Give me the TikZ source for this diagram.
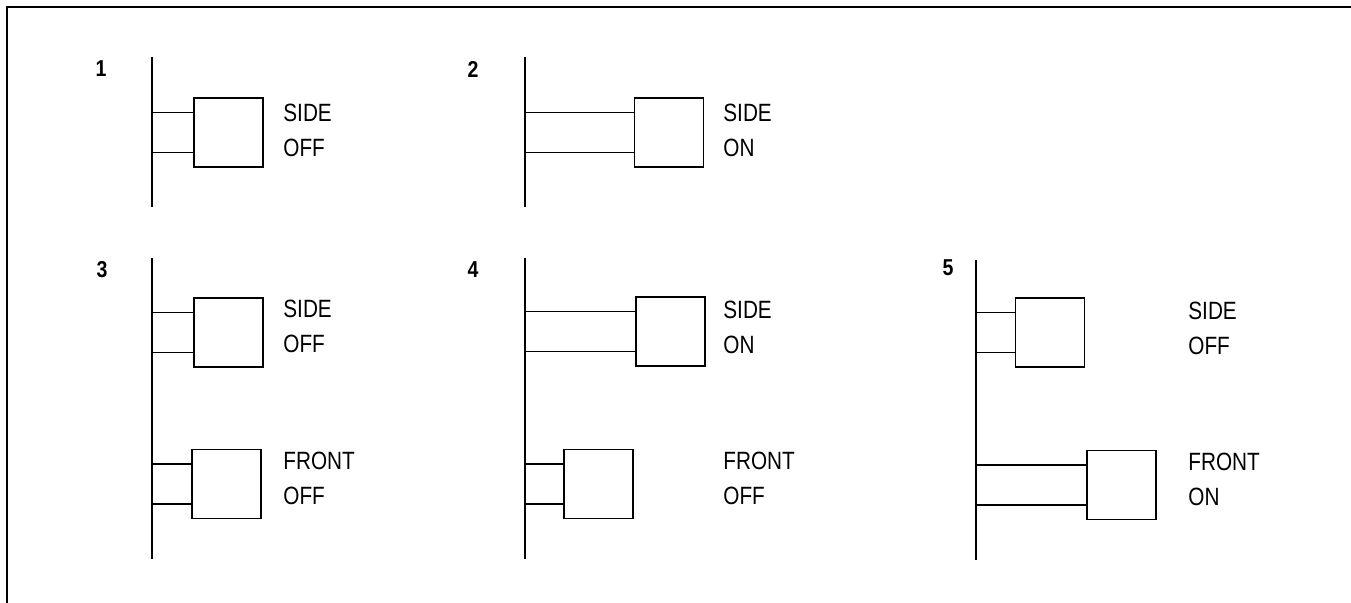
\documentclass[tikz,border=0pt]{standalone}
\usepackage{fontspec}
\setmainfont{Liberation Sans}[FakeStretch=0.83, BoldFont={Liberation Sans Bold},
  BoldFeatures={FakeStretch=0.85}]
\usetikzlibrary{positioning}

\begin{document}
\begin{tikzpicture}[
  x=0.5pt, y=-0.5pt,
  frame/.style={line width=1.2pt},
  bus/.style={line width=1pt},
  stub/.style={line width=0.7pt},
  unit/.style={draw, line width=0.9pt, minimum width=34.5pt,
               minimum height=34.5pt, inner sep=0pt},
  state/.style={anchor=west, align=left, inner sep=0pt,
                font=\fontsize{12.5}{17.5}\selectfont},
  num/.style={inner sep=0pt, font=\bfseries\fontsize{11.5}{13}\selectfont},
]
\useasboundingbox (0,0) rectangle (1351,603);
\draw[frame] (7,603) -- (7,7) -- (1351,7);

% 1
\node[num] (n1) at (101,69) {1};
\coordinate (t1) at (152,57);
\coordinate (e1) at (152,207);
\draw[bus] (t1) -- (e1);
\node[unit] (s1) at (228.5,132.5) {};
\node[state] (l1) at (283,130.5) {SIDE\\OFF};
\foreach \d in {10pt,-10pt}
  \draw[stub] ([yshift=\d]s1.west) -- ([yshift=\d]s1.west -| t1);

% 2
\node[num] (n2) at (473,69) {2};
\coordinate (t2) at (525,57);
\coordinate (e2) at (525,207);
\draw[bus] (t2) -- (e2);
\node[unit] (s2) at (669,132.5) {};
\node[state] (l2) at (723,130) {SIDE\\ON};
\foreach \d in {10pt,-10pt}
  \draw[stub] ([yshift=\d]s2.west) -- ([yshift=\d]s2.west -| t2);

% 3
\node[num] (n3) at (102,270) {3};
\coordinate (t3) at (152,258);
\coordinate (e3) at (152,559);
\draw[bus] (t3) -- (e3);
\node[unit] (s3) at (228.5,332.5) {};
\node[unit] (f3) at (226.5,484) {};
\node[state] (l3) at (283,326) {SIDE\\OFF};
\node[state] (m3) at (283,478) {FRONT\\OFF};
\foreach \d in {10pt,-10pt} {
  \draw[stub] ([yshift=\d]s3.west) -- ([yshift=\d]s3.west -| t3);
  \draw[stub] ([yshift=\d]f3.west) -- ([yshift=\d]f3.west -| t3);
}

% 4
\node[num] (n4) at (473,270) {4};
\coordinate (t4) at (525,258);
\coordinate (e4) at (525,559);
\draw[bus] (t4) -- (e4);
\node[unit] (s4) at (670.5,331.5) {};
\node[unit] (f4) at (598.5,484) {};
\node[state] (l4) at (723,327) {SIDE\\ON};
\node[state] (m4) at (723,478) {FRONT\\OFF};
\foreach \d in {10pt,-10pt} {
  \draw[stub] ([yshift=\d]s4.west) -- ([yshift=\d]s4.west -| t4);
  \draw[stub] ([yshift=\d]f4.west) -- ([yshift=\d]f4.west -| t4);
}

% 5
\node[num] (n5) at (948,268) {5};
\coordinate (t5) at (976,260);
\coordinate (e5) at (976,560);
\draw[bus] (t5) -- (e5);
\node[unit] (s5) at (1050,332.5) {};
\node[unit] (f5) at (1121.5,485) {};
\node[state] (l5) at (1188,328) {SIDE\\OFF};
\node[state] (m5) at (1188,479) {FRONT\\ON};
\foreach \d in {10pt,-10pt} {
  \draw[stub] ([yshift=\d]s5.west) -- ([yshift=\d]s5.west -| t5);
  \draw[stub] ([yshift=\d]f5.west) -- ([yshift=\d]f5.west -| t5);
}
\end{tikzpicture}
\end{document}
